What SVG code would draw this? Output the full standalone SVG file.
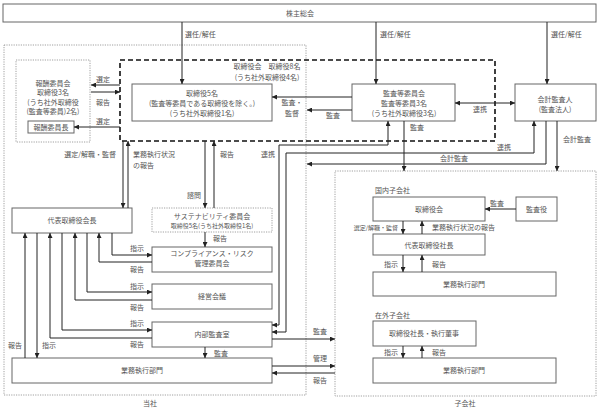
<svg xmlns="http://www.w3.org/2000/svg" width="600" height="409" viewBox="0 0 600 409">
<defs>
<marker id="ah" viewBox="0 0 5 5" refX="5" refY="2.5" markerWidth="5" markerHeight="5" markerUnits="userSpaceOnUse" orient="auto-start-reverse">
<path d="M0,0 L5,2.5 L0,5 z" fill="#222"/>
</marker>
<style>
text{font-family:"Noto Sans CJK JP","Noto Sans CJK SC",sans-serif;font-size:7px;fill:#555}
.c{text-anchor:middle}
.e{text-anchor:end}
.s{font-size:6px}
.box{fill:#fff;stroke:#666;stroke-width:1}
.dot{fill:none;stroke:#888;stroke-width:0.8;stroke-dasharray:1.2,1.2}
.dash{fill:none;stroke:#111;stroke-width:1.6;stroke-dasharray:5,3}
.ln{fill:none;stroke:#222;stroke-width:1}
.a{marker-end:url(#ah)}
.b{marker-start:url(#ah);marker-end:url(#ah)}
</style>
</defs>
<rect width="600" height="409" fill="#fff"/>

<g id="toushagroup">
<rect class="dot" x="4" y="45" width="302" height="350"/>
<text class="c" x="150" y="406">当社</text>
</g>
<g id="kogaisha">
<rect class="dot" x="335" y="171" width="261" height="225"/>
<text class="c" x="465" y="406">子会社</text>
</g>

<g id="kabunushi">
<rect class="box" x="3" y="4" width="593" height="18"/>
<text class="c" x="300" y="16">株主総会</text>
</g>

<g id="torishimariyakukai">
<rect class="dash" x="120" y="60" width="375" height="81"/>
<text class="c" x="267" y="69">取締役会　取締役8名</text>
<text class="c" x="267" y="80">(うち社外取締役4名)</text>
</g>

<g id="houshu">
<rect class="dot" x="16" y="60" width="74" height="82"/>
<text class="c" x="53" y="86">報酬委員会</text>
<text class="c" x="53" y="95">取締役3名</text>
<text class="c" x="53" y="105">(うち社外取締役</text>
<text class="c" x="53" y="114">(監査等委員)2名)</text>
</g>
<g id="houshuchou">
<rect class="box" x="28" y="121" width="46" height="12"/>
<text class="c" x="51" y="130">報酬委員長</text>
</g>

<g id="torishimari5">
<rect class="box" x="132" y="84" width="140" height="37"/>
<text class="c" x="202" y="95.5">取締役5名</text>
<text class="c" x="202" y="105.5">(監査等委員である取締役を除く。)</text>
<text class="c" x="202" y="115.5">(うち社外取締役1名)</text>
</g>

<g id="kansatou">
<rect class="box" x="352" y="84" width="103" height="37"/>
<text class="c" x="404" y="95.5">監査等委員会</text>
<text class="c" x="404" y="105.5">監査等委員3名</text>
<text class="c" x="404" y="115.5">(うち社外取締役3名)</text>
</g>

<g id="kaikei">
<rect class="box" x="515" y="84" width="81" height="37"/>
<text class="c" x="555" y="101.5">会計監査人</text>
<text class="c" x="555" y="111.5">(監査法人)</text>
</g>

<g id="kaichou">
<rect class="box" x="12" y="208" width="120" height="25"/>
<text class="c" x="72" y="223">代表取締役会長</text>
</g>

<g id="sustainability">
<rect class="dot" x="152" y="208" width="120" height="24"/>
<text class="c" x="212" y="219">サステナビリティ委員会</text>
<text class="c s" x="212" y="228">取締役5名(うち社外取締役1名)</text>
</g>

<g id="compliance">
<rect class="box" x="152" y="247" width="120" height="25"/>
<text class="c" x="212" y="256">コンプライアンス・リスク</text>
<text class="c" x="212" y="266">管理委員会</text>
</g>

<g id="keiei">
<rect class="box" x="152" y="284" width="120" height="25"/>
<text class="c" x="212" y="299">経営会議</text>
</g>

<g id="naibu">
<rect class="box" x="152" y="322" width="120" height="25"/>
<text class="c" x="212" y="337">内部監査室</text>
</g>

<g id="gyoumu">
<rect class="box" x="12" y="358" width="260" height="25"/>
<text class="c" x="142" y="373">業務執行部門</text>
</g>

<g id="kokunai">
<text x="375" y="193">国内子会社</text>
</g>
<g id="ko-torishimari">
<rect class="box" x="373" y="197" width="112" height="24"/>
<text class="c" x="429" y="212">取締役会</text>
</g>
<g id="ko-kansayaku">
<rect class="box" x="516" y="197" width="41" height="24"/>
<text class="c" x="536.5" y="212">監査役</text>
</g>
<g id="ko-shachou">
<rect class="box" x="373" y="234" width="112" height="21"/>
<text class="c" x="429" y="247.5">代表取締役社長</text>
</g>
<g id="ko-gyoumu1">
<rect class="box" x="373" y="272" width="183" height="24"/>
<text class="c" x="464" y="287">業務執行部門</text>
</g>
<g id="zaigai">
<text x="375" y="318">在外子会社</text>
</g>
<g id="ko-shikkou">
<rect class="box" x="373" y="321" width="103" height="25"/>
<text class="c" x="424" y="336">取締役社長・執行董事</text>
</g>
<g id="ko-gyoumu2">
<rect class="box" x="373" y="358" width="183" height="25"/>
<text class="c" x="464" y="373">業務執行部門</text>
</g>

<g id="connectors">
<path class="ln a" d="M182,22 V84"/>
<path class="ln a" d="M376,22 V84"/>
<path class="ln a" d="M547,22 V84"/>
<text x="185" y="37">選任/解任</text>
<text x="380" y="37">選任/解任</text>
<text x="551" y="37">選任/解任</text>

<path class="ln a" d="M352,97 H272"/>
<path class="ln a" d="M352,110 H307"/>
<text class="c" x="292" y="105">監査・</text>
<text class="c" x="292" y="116">監督</text>
<text class="c" x="333" y="118">監査</text>
<path class="ln b" d="M455,103 H515"/>
<text class="c" x="480" y="112">連携</text>

<path class="ln a" d="M120,85 H91"/>
<path class="ln a" d="M91,92 H120"/>
<path class="ln a" d="M120,127 H74"/>
<text x="96" y="82">選定</text>
<text x="96" y="105">報告</text>
<text x="96" y="124">選定</text>

<path class="ln a" d="M123,141 V208"/>
<path class="ln a" d="M128,208 V141"/>
<text class="e" x="116" y="157">選定/解職・監督</text>
<text x="133" y="157">業務執行状況</text>
<text x="133" y="168">の報告</text>
<path class="ln a" d="M205,141 V208"/>
<path class="ln a" d="M214,208 V141"/>
<text class="e" x="201" y="198">諮問</text>
<text x="220" y="157">報告</text>
<text x="261" y="157">連携</text>

<path class="ln b" d="M272,325 H279 V145 H388 V121"/>
<path class="ln b" d="M272,332 H286 V153 H534 V121"/>
<path class="ln a" d="M546,121 V164 H307"/>
<text class="c" x="504" y="150">連携</text>
<text class="c" x="454" y="161">会計監査</text>
<path class="ln a" d="M404,121 V171"/>
<text x="410" y="130">監査</text>
<path class="ln a" d="M557,121 V171"/>
<text x="563" y="142">会計監査</text>

<path class="ln a" d="M205,232 V247"/>
<text x="213" y="241">報告</text>

<path class="ln a" d="M112,233 V255 H152"/>
<path class="ln a" d="M152,262 H99 V233"/>
<path class="ln a" d="M87,233 V292 H152"/>
<path class="ln a" d="M152,300 H75 V233"/>
<path class="ln a" d="M62,233 V330 H152"/>
<path class="ln a" d="M152,338 H50 V233"/>
<path class="ln a" d="M37,233 V358"/>
<path class="ln a" d="M25,358 V233"/>
<text x="130" y="251">指示</text>
<text x="130" y="272">報告</text>
<text x="130" y="289">指示</text>
<text x="130" y="310">報告</text>
<text x="130" y="326">指示</text>
<text x="130" y="347">報告</text>
<text x="42" y="348">指示</text>
<text x="8" y="348">報告</text>

<path class="ln a" d="M205,347 V358"/>
<text x="214" y="356">監査</text>

<path class="ln a" d="M272,339 H335"/>
<path class="ln a" d="M272,366 H335"/>
<path class="ln a" d="M335,373 H272"/>
<text class="c" x="320" y="334">監査</text>
<text class="c" x="320" y="361">管理</text>
<text class="c" x="320" y="383">報告</text>

<path class="ln a" d="M516,209 H485"/>
<text class="c" x="497" y="206">監査</text>
<path class="ln a" d="M403,221 V234"/>
<path class="ln a" d="M422,234 V221"/>
<text class="e s" x="398" y="230">選定/解職・監督</text>
<text x="432" y="230">業務執行状況の報告</text>
<path class="ln a" d="M403,255 V272"/>
<path class="ln a" d="M422,272 V255"/>
<text class="e" x="398" y="267">指示</text>
<text x="432" y="267">報告</text>
<path class="ln a" d="M403,346 V358"/>
<path class="ln a" d="M422,358 V346"/>
<text class="e" x="398" y="355">指示</text>
<text x="432" y="355">報告</text>
</g>
</svg>
